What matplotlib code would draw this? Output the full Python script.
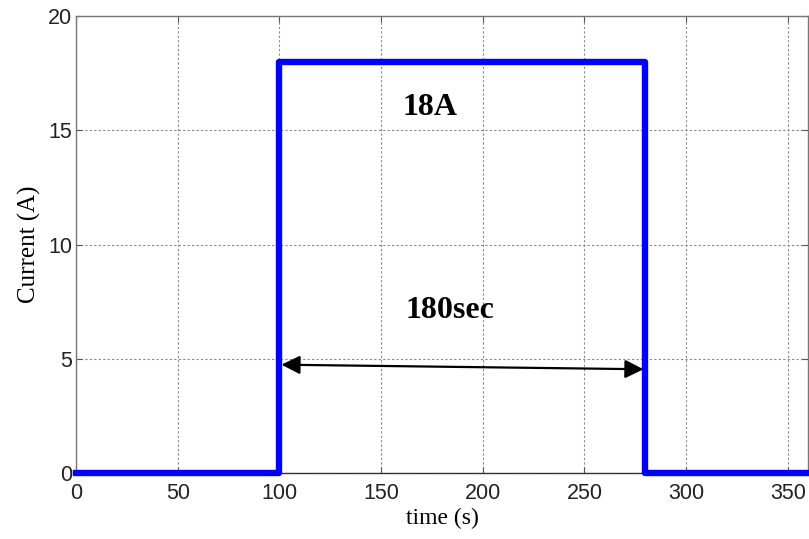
import matplotlib.pyplot as plt

# pulse profile: (time in s, current in A)
time_s = [0, 100, 100, 280, 280, 360]
current_a = [0, 0, 18, 18, 0, 0]

x_ticks = [0, 50, 100, 150, 200, 250, 300, 350]
y_ticks = [0, 5, 10, 15, 20]

pulse_label = "18A"
duration_label = "180sec"
arrow_start = (101, 4.75)
arrow_end = (279, 4.55)

fig = plt.figure(figsize=(8.09, 5.39), dpi=100)
ax = fig.add_axes([0.094, 0.122, 0.905, 0.848])

ax.plot(time_s, current_a, color="#0000ff", lw=4.6, solid_joinstyle="round",
        clip_on=False, zorder=3)

ax.set_xlim(0, 360)
ax.set_ylim(0, 20)
ax.set_xticks(x_ticks)
ax.set_yticks(y_ticks)
ax.grid(True, color="#888888", linestyle=(0, (2, 2)), lw=0.8)

for s in ax.spines.values():
    s.set_color("#777777")
    s.set_linewidth(1.0)
ax.spines["bottom"].set_color("#333333")

ax.tick_params(direction="in", length=4, color="#555555",
               labelsize=15.5, top=True, right=True)
ax.tick_params(axis="x", pad=7)
ax.tick_params(axis="y", pad=3)
for lbl in ax.get_xticklabels() + ax.get_yticklabels():
    lbl.set_family("Liberation Sans")
    lbl.set_color("#222222")

ax.set_xlabel("time (s)", family="Liberation Serif", fontsize=17, labelpad=3)
ax.set_ylabel("Current (A)", family="Liberation Serif", fontsize=18, labelpad=5)

ax.text(174, 16.0, pulse_label, family="Liberation Serif", fontweight="bold",
        fontsize=23, ha="center", va="center")
ax.text(184, 7.1, duration_label, family="Liberation Serif", fontweight="bold",
        fontsize=23, ha="center", va="center")

ax.annotate("", xy=arrow_end, xytext=arrow_start,
            arrowprops=dict(arrowstyle="<|-|>", color="black", lw=1.6,
                            mutation_scale=28, shrinkA=0, shrinkB=0))

fig.savefig("out.png", dpi=100)
